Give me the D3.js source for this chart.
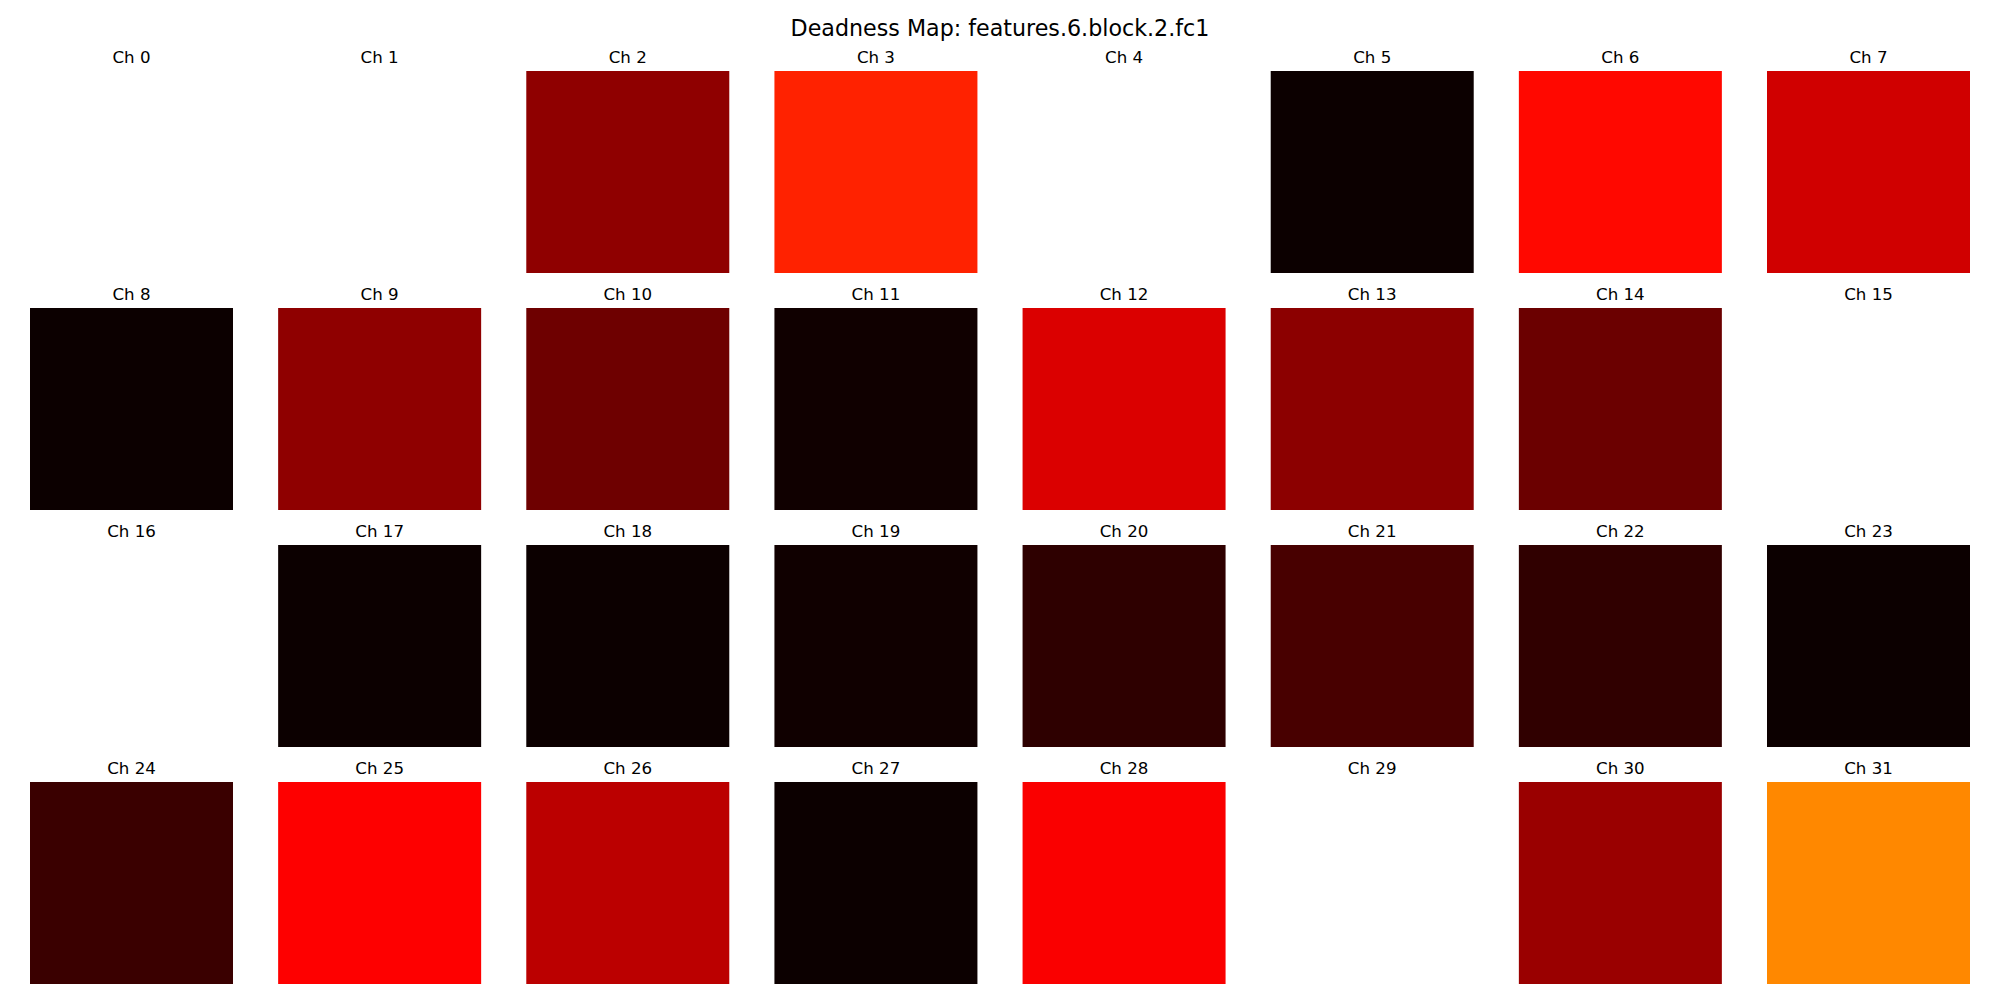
<!DOCTYPE html>
<html>
<head>
<meta charset="utf-8">
<script src="https://cdn.jsdelivr.net/npm/d3@7"></script>
<style>
html,body{margin:0;padding:0;background:#fff;}
svg{display:block;font-family:"DejaVu Sans",sans-serif;}
</style>
</head>
<body>
<svg id="chart" width="2000" height="1000"></svg>
<script>
const titleText = "Deadness Map: features.6.block.2.fc1";
const channels = d3.range(32);
const channelLabels = channels.map(c => "Ch " + c);
const deadness = [
  1.000, 1.000, 0.198, 0.416, 1.000, 0.001, 0.377, 0.295,
  0.001, 0.198, 0.148, 0.008, 0.311, 0.193, 0.143, 1.000,
  1.000, 0.001, 0.001, 0.008, 0.053, 0.092, 0.056, 0.001,
  0.071, 0.364, 0.264, 0.001, 0.358, 1.000, 0.214, 0.568
];
const nCols = 8;

// matplotlib "hot" colormap (piecewise linear in RGB)
const hot = d3.scaleLinear()
  .domain([0, 0.365079, 0.746032, 1])
  .range(["rgb(11,0,0)", "rgb(255,0,0)", "rgb(255,255,0)", "rgb(255,255,255)"])
  .interpolate(d3.interpolateRgb)
  .clamp(true);

const svg = d3.select("#chart");
const cell = 203;
const x = d3.scaleLinear().domain([0, nCols - 1]).range([30, 1767]);
const y = d3.scaleLinear().domain([0, 3]).range([71, 782]);

svg.append("text")
  .attr("x", 1000).attr("y", 36)
  .attr("text-anchor", "middle")
  .attr("font-size", 22.2)
  .attr("fill", "#000")
  .text(titleText);

const g = svg.selectAll("g.cell")
  .data(channels)
  .join("g")
  .attr("class", "cell")
  .attr("transform", c => `translate(${x(c % nCols)},${y(Math.floor(c / nCols))})`);

g.append("rect")
  .attr("width", cell).attr("height", cell - 1)
  .attr("fill", c => hot(deadness[c]));

g.append("text")
  .attr("x", cell / 2).attr("y", -7.7)
  .attr("text-anchor", "middle")
  .attr("font-size", 16.67)
  .attr("fill", "#000")
  .text(c => channelLabels[c]);
</script>
</body>
</html>
